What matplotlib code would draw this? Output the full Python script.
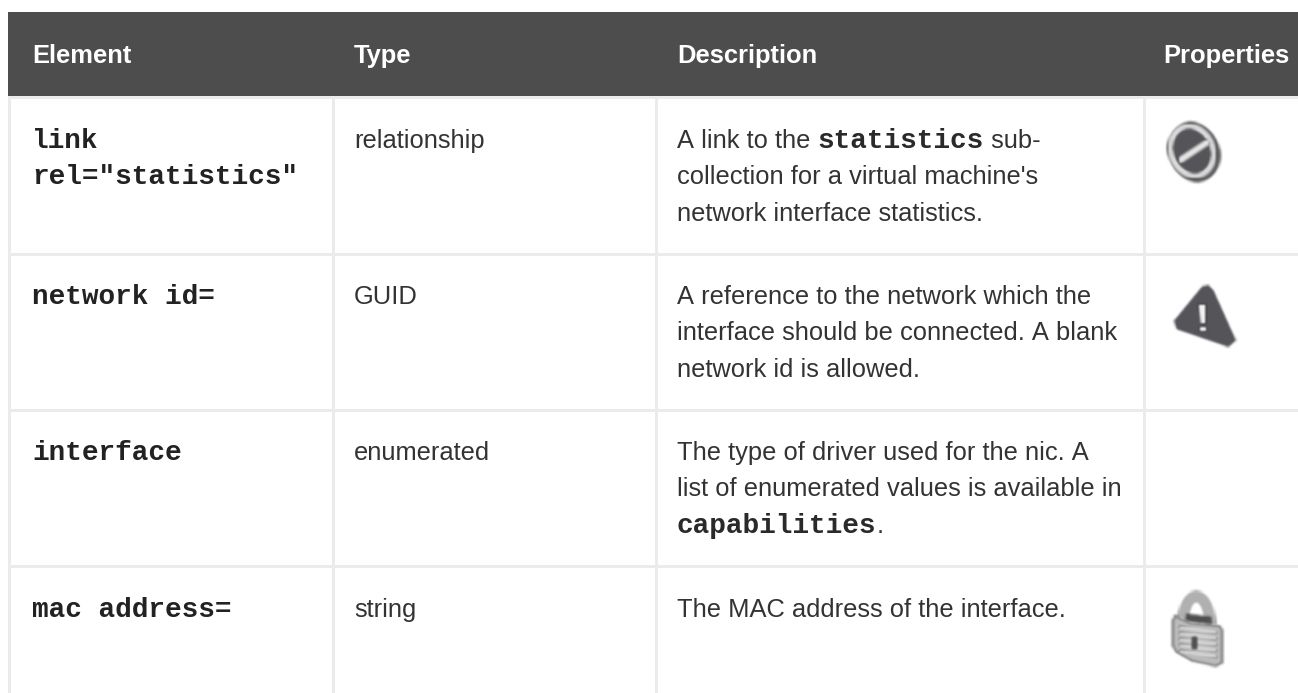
import matplotlib
matplotlib.use("Agg")
import matplotlib.pyplot as plt
import numpy as np
from matplotlib.patches import Rectangle, Ellipse, Polygon, PathPatch
from matplotlib.path import Path

headers = ["Element", "Type", "Description", "Properties"]
elements = [["link", 'rel="statistics"'], ["network id="], ["interface"], ["mac address="]]
types = ["relationship", "GUID", "enumerated", "string"]
descriptions = [
    [[("A link to the ", 0), ("statistics", 1), (" sub-", 0)],
     [("collection for a virtual machine's", 0)],
     [("network interface statistics.", 0)]],
    [[("A reference to the network which the", 0)],
     [("interface should be connected. A blank", 0)],
     [("network id is allowed.", 0)]],
    [[("The type of driver used for the nic. A", 0)],
     [("list of enumerated values is available in", 0)],
     [("capabilities", 1), (".", 0)]],
    [[("The MAC address of the interface.", 0)]],
]

col_x = [32, 354, 677, 1163]
row_base = [148, 304, 460, 617]
row_lines = [96, 253, 409, 565]
col_lines = [8, 331.5, 654.5, 1143]

W, H = 1298, 693
fig = plt.figure(figsize=(W / 100, H / 100), dpi=100)
ax = fig.add_axes([0, 0, 1, 1])
ax.set_xlim(0, W)
ax.set_ylim(H, 0)
ax.axis("off")

SANS = "Liberation Sans"
MONO = "Liberation Mono"
FS = 18.4
FM = 20
LH = 36.4
GRID = "#ebebeb"
INK = "#333333"


def blur(img, dpi):
    # light box blur, matching the soft upscaled icons of the reference
    pad = 2
    a = np.pad(img, ((pad, pad), (pad, pad), (0, 0)))
    k = np.array([1, 2, 3, 2, 1], float) / 9
    a = np.apply_along_axis(lambda m: np.convolve(m, k, mode="same"), 0, a)
    a = np.apply_along_axis(lambda m: np.convolve(m, k, mode="same"), 1, a)
    return a, -pad, -pad


ax.add_patch(Rectangle((8, 12), W - 8, 84, fc="#4d4d4d", ec="none"))
for x, h in zip(col_x, headers):
    ax.text(x, 63, h, family=SANS, weight="bold", size=FS, color="white", va="baseline")

for y in row_lines:
    ax.add_patch(Rectangle((8, y), W - 8, 3, fc=GRID, ec="none"))
for x in col_lines:
    ax.add_patch(Rectangle((x, 96), 3, H - 96, fc=GRID, ec="none"))

r = fig.canvas.get_renderer()


def draw_runs(x, y, runs):
    for s, code in runs:
        if code:
            t = ax.text(x, y, s, family=MONO, weight="bold", size=FM, color="#2a2a2a", va="baseline")
        else:
            t = ax.text(x, y, s.replace(" ", "\u00a0"), family=SANS, size=FS, color=INK, va="baseline")
        x += t.get_window_extent(r).width


for i, base in enumerate(row_base):
    for k, line in enumerate(elements[i]):
        ax.text(col_x[0], base + k * 35.5, line, family=MONO, weight="bold", size=FM, color="#222222", va="baseline")
    ax.text(col_x[1], base, types[i], family=SANS, size=FS, color=INK, va="baseline")
    for k, runs in enumerate(descriptions[i]):
        draw_runs(col_x[2], base + k * LH, runs)

DARK = "#55555a"
icons = []
# forbidden icon
icons.append(Ellipse((1194, 152), 52, 62, angle=-22, fc="#5f5f63", ec="none", zorder=3))
icons.append(Ellipse((1192, 151), 47, 56, angle=-22, fc="#dcdcdc", ec="none", zorder=4))
icons.append(Ellipse((1192, 151), 37, 46, angle=-22, fc=DARK, ec="none", zorder=5))
icons.append(Polygon([(1178, 158), (1207, 139), (1210, 144), (1180, 164)], fc="#e6e6e6", ec="none", zorder=6))
# warning icon
icons.append(Polygon([(1203, 288), (1208, 287), (1212, 291), (1234, 340), (1228, 345), (1178, 328), (1176, 321)],
                     fc=DARK, ec=DARK, lw=3, joinstyle="round", zorder=3))
icons.append(Polygon([(1198, 304), (1206, 304), (1206, 324), (1201, 324)], fc="#f2f2f2", ec="none", zorder=4))
icons.append(Ellipse((1203, 329), 8, 5, fc="#f2f2f2", ec="none", zorder=4))
# lock icon
icons.append(PathPatch(Path([(1184, 620), (1184, 588), (1210, 588), (1210, 626)],
                            [Path.MOVETO, Path.CURVE4, Path.CURVE4, Path.CURVE4]),
                       fc="none", ec="#b0b0b0", lw=8.5, zorder=3))
icons.append(Polygon([(1186, 614), (1211, 616), (1212, 626), (1184, 622)], fc="#4e4e4e", ec="none", zorder=3.5))
icons.append(Polygon([(1175, 616), (1190, 623), (1220, 626), (1222, 630), (1222, 663), (1216, 666), (1192, 661), (1176, 652), (1173, 646), (1173, 620)],
                     fc="#bcbcbc", ec="#777777", lw=1.5, joinstyle="round", zorder=4))
for dy in range(0, 30, 6):
    icons.append(Polygon([(1179, 626 + dy), (1217, 632 + dy), (1217, 633.5 + dy), (1179, 627.5 + dy)],
                         fc="#e8e8e8", ec="none", zorder=5))
icons.append(Rectangle((1192, 637), 5, 12, fc="#4e4e4e", ec="none", zorder=6))
for p in icons:
    ax.add_patch(p)
    p.set_agg_filter(blur)

fig.savefig("out.png", dpi=100)
